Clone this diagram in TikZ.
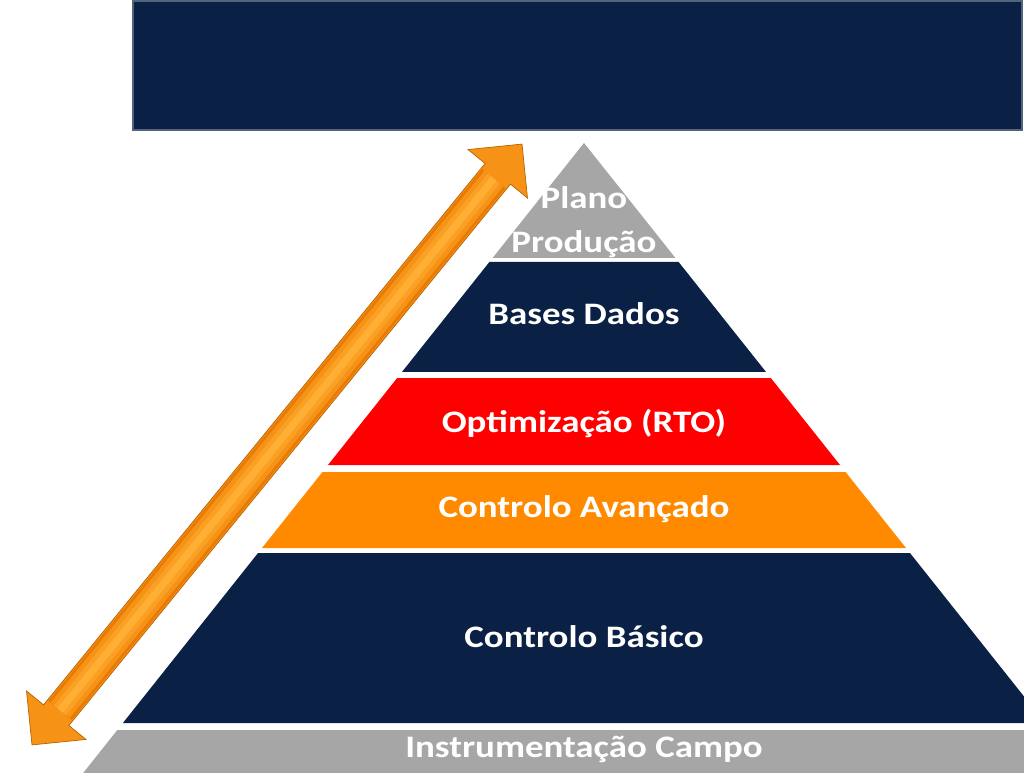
\documentclass[tikz,border=0pt]{standalone}
\usepackage{fontspec}
\usepackage{graphicx}
\setmainfont{Carlito}
\usetikzlibrary{shapes.arrows,calc}

\definecolor{pyrnavy}{RGB}{10,32,68}
\definecolor{pyrred}{RGB}{255,0,0}
\definecolor{pyrorange}{RGB}{255,138,0}
\definecolor{pyrgray}{RGB}{166,166,166}
\definecolor{arrowdark}{RGB}{232,122,4}
\definecolor{arrowmid}{RGB}{246,146,22}
\definecolor{arrowlight}{RGB}{255,176,52}

% one band of the pyramid: top y, bottom y, colour
\newcommand{\pyrlayer}[3]{%
  \fill[#3] ({584-0.795*(#1-143)},#1) -- ({584+0.795*(#1-143)},#1)
    -- ({584+0.795*(#2-143)},#2) -- ({584-0.795*(#2-143)},#2) -- cycle;}
% labels are set a little wide
\newcommand{\wide}[1]{\scalebox{1.18}[1]{#1}}

\begin{document}
\begin{tikzpicture}[x=0.02cm, y=-0.02cm,
    lbl/.style={text=white, anchor=base, align=center,
      font=\bfseries\fontsize{17.8}{25.6}\selectfont}]
  \useasboundingbox (0,0) rectangle (1024,773);
  \clip (0,0) rectangle (1024,773);

  % banner
  \fill[pyrnavy, draw=pyrnavy!70!white, line width=0.6pt] (133,1) rectangle (1022,130);

  % pyramid
  \pyrlayer{143}{258}{pyrgray}
  \node[lbl] (plano) at (584,253) {\wide{Plano}\\\wide{Produção}};
  \pyrlayer{262}{372}{pyrnavy}
  \node[lbl] (bases) at (584,325) {\wide{Bases Dados}};
  \pyrlayer{378}{465}{pyrred}
  \node[lbl] (rto) at (584,432) {\wide{Optimização (RTO)}};
  \pyrlayer{472}{548}{pyrorange}
  \node[lbl] (avancado) at (584,517) {\wide{Controlo Avançado}};
  \pyrlayer{553}{723}{pyrnavy}
  \node[lbl] (basico) at (584,647) {\wide{Controlo Básico}};
  \pyrlayer{730}{820}{pyrgray}
  \node[lbl] (campo) at (584,757) {\wide{Instrumentação Campo}};

  % double arrow along the left side
  \node[double arrow, rotate=50.8, minimum height=15.51cm,
    inner xsep=0pt, inner ysep=0.32cm,
    double arrow head extend=0.44cm, double arrow tip angle=90,
    fill=arrowmid, draw=arrowdark!80!black, line width=0.4pt] (levels) at (277,444.5) {};
  \coordinate (shaftA) at ($(levels.tip 1)!0.058!(levels.tip 2)$);
  \coordinate (shaftB) at ($(levels.tip 1)!0.942!(levels.tip 2)$);
  \draw[arrowdark, line width=17pt] (shaftA) -- (shaftB);
  \draw[arrowmid, line width=14pt] (shaftA) -- (shaftB);
  \draw[arrowmid!50!arrowlight, line width=9pt] (shaftA) -- (shaftB);
  \draw[arrowlight, line width=4pt] (shaftA) -- (shaftB);
\end{tikzpicture}
\end{document}
